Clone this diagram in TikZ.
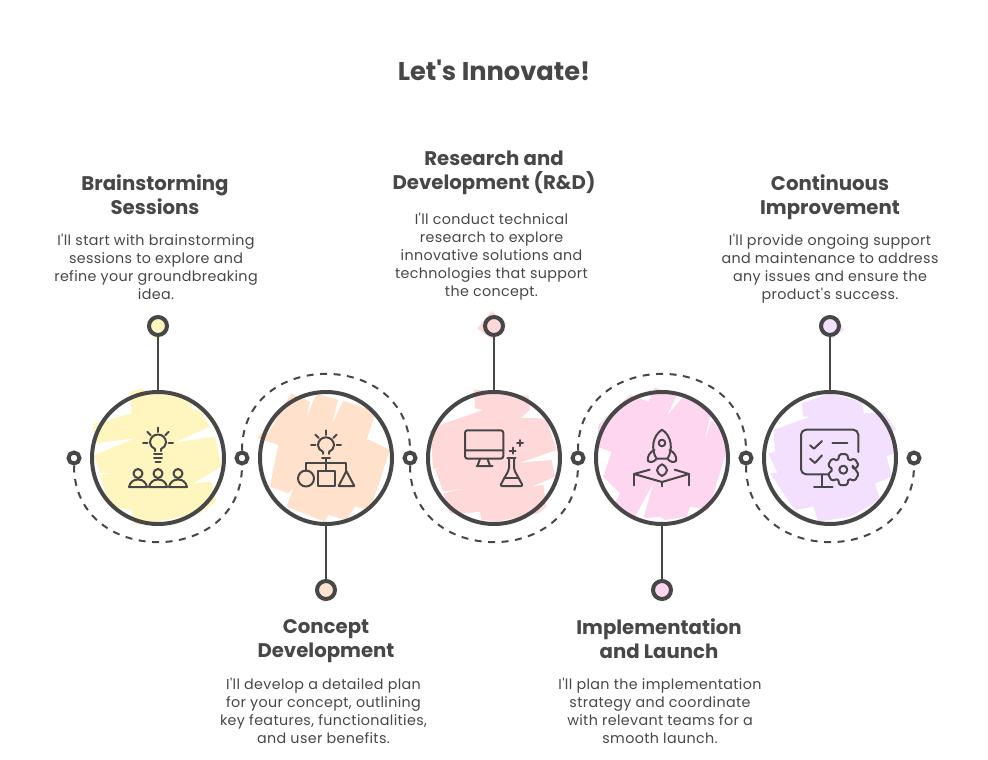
\documentclass[tikz,border=0pt]{standalone}
\usepackage{fontspec}
\setmainfont{Poppins}[Ligatures=TeXOff]
\usepackage{xcolor}
\usetikzlibrary{positioning}
\definecolor{ink}{HTML}{474747}
\definecolor{sunny}{HTML}{FFF6BF}
\definecolor{peach}{HTML}{FFE1CC}
\definecolor{blush}{HTML}{FFD9D9}
\definecolor{orchid}{HTML}{FFD6F0}
\definecolor{lilac}{HTML}{F3E0FF}
\tikzset{
    x=1pt, y=-1pt, % pixels of the sketch, going down
    hub/.style={circle, draw=ink, line width=4pt, minimum size=132pt, inner sep=0pt},
    pin/.style={circle, draw=ink, line width=4pt, minimum size=18pt, inner sep=0pt},
    joint/.style={circle, draw=ink, line width=4pt, minimum size=11pt, inner sep=0pt, fill=white},
    headline/.style={font=\bfseries\fontsize{25.7}{28}\selectfont, text=ink},
    heading/.style={font=\bfseries\fontsize{19.7}{24}\selectfont, text=ink, align=center, inner sep=0pt,
        execute at begin node=\strut, execute at end node=\strut},
    blurb/.style={font=\fontsize{14.3}{18}\selectfont\addfontfeature{LetterSpace=2.5}, text=ink, align=center, inner sep=0pt,
        execute at begin node=\strut, execute at end node=\strut},
    glyph/.style={draw=ink, line width=2pt, line cap=round, line join=round},
    zoomA/.style={shift={(60,310)}, scale=1/3},
    zoomB/.style={shift={(400,310)}, scale=1/3},
    zoomC/.style={shift={(740,310)}, scale=1/3},
    bulb/.pic={
        \draw[glyph] (-3,8.5) -- (-3,6.5) .. controls (-6,5) and (-8,3) .. (-8,0)
            .. controls (-8,-4.5) and (-4.5,-8) .. (0,-8) .. controls (4.5,-8) and (8,-4.5) .. (8,0)
            .. controls (8,3) and (6,5) .. (3,6.5) -- (3,8.5);
        \foreach \a in {0,-45,-90,-135,-180} \draw[glyph] (\a:10.5) -- (\a:15);
    },
    person/.pic={
        \draw[glyph] (0,0) circle (4.5);
        \draw[glyph] (-9,13.5) .. controls (-8,9) and (-5,6) .. (0,6) .. controls (5,6) and (8,9) .. (9,13.5) -- cycle;
    },
    crowdicon/.pic={
        \pic at (0,-15.5) {bulb};
        \draw[glyph] (-4,-4.5) -- (4,-4.5) (-4,-.5) -- (4,-.5) (-2.5,4) -- (2.5,4);
        \foreach \x in {-20,0,20} \pic at (\x,15.5) {person};
    },
    shapesicon/.pic={
        \pic at (0,-12.7) {bulb};
        \draw[glyph] (-4,0) -- (4,0) (0,0) -- (0,13) (-20,13) -- (-20,5) -- (20,5) -- (20,13);
        \draw[glyph] (-20,20.5) circle (8);
        \draw[glyph] (-8,13) rectangle (8.7,28);
        \draw[glyph] (20.3,13) -- (12.7,28) -- (28.3,28) -- cycle;
    },
    labicon/.pic={
        \draw[glyph, rounded corners=2.5pt] (-29,-27.7) rectangle (9.3,.7);
        \draw[glyph] (-29,-7.7) -- (9.3,-7.7) (-14,.7) -- (-16.5,8) (-6.5,.7) -- (-4,8) (-17.5,8) -- (-1.5,8);
        \draw[glyph, rounded corners=2pt] (15,0) -- (15,11.7) -- (6,28) -- (29,28) -- (20,11.7) -- (20,0);
        \draw[glyph] (13.3,0) -- (21.5,0) (10,20) -- (24,20);
        \draw[glyph] (18.7,-10.3) -- (18.7,-4.3) (15.7,-7.3) -- (21.7,-7.3);
        \draw[glyph] (26,-18) -- (26,-12) (23,-15) -- (29,-15);
    },
    rocketicon/.pic={
        \draw[glyph] (-5.5,.7) .. controls (-11,-8) and (-10,-22) .. (0,-28.3)
            .. controls (10,-22) and (11,-8) .. (5.5,.7) -- cycle;
        \draw[glyph] (0,-15) circle (3.3);
        \draw[glyph] (-7.5,-8) .. controls (-12,-6) and (-15,-2) .. (-14,3) .. controls (-11,5) and (-9,4) .. (-6,1.5);
        \draw[glyph] (7.5,-8) .. controls (12,-6) and (15,-2) .. (14,3) .. controls (11,5) and (9,4) .. (6,1.5);
        \draw[glyph] (0,6.3) .. controls (-3,8) and (-5,10) .. (-5,12.3) .. controls (-5,15) and (-2,17) .. (0,18)
            .. controls (2,17) and (5,15) .. (5,12.3) .. controls (5,10) and (3,8) .. (0,6.3) -- cycle;
        \draw[glyph] (-12.3,11.7) -- (-28,16) -- (0,24) -- (27,16) -- (12.7,11.7);
        \draw[glyph] (-28,16) -- (-28,27.3) (27,16) -- (27,27.3) (0,24) -- (0,28.3);
    },
    careicon/.pic={
        \draw[glyph, rounded corners=5pt] (28.3,-6) -- (28.3,-28.3) -- (-29,-28.3) -- (-29,16.3) -- (-2.7,16.3);
        \draw[glyph] (-8,16.3) -- (-8,28.3) (-16,29) -- (2.7,29);
        \draw[glyph] (-20,-12.7) -- (-16,-9.3) -- (-8,-17) (-20,.7) -- (-15,5) -- (-8,-2.7);
        \draw[glyph] (2.3,-15) -- (17.3,-15);
        \draw[glyph, fill=lilac, rounded corners=1.5pt, shift={(13.3,11.7)}] (-30:10)
            \foreach \a in {30,90,150,210,270,330} { -- ({\a-14}:16) -- ({\a+14}:16) -- ({\a+30}:10.5)} -- cycle;
        \draw[glyph] (13.3,11.7) circle (4);
    },
}
\tikzstyle{link} = [draw=ink, line width=2.5pt]
\tikzstyle{arcline} = [draw=ink, line width=2pt, dash pattern=on 7pt off 6.5pt, looseness=1.56]

\begin{document}
\begin{tikzpicture}[on grid, node distance=168pt]
    \useasboundingbox (0,0) rectangle (988,760);

    % Scribbles
    \begin{scope}[zoomA]
        \fill[sunny] (210,245) -- (248,235) -- (252,245) -- (300,245) -- (395,275) -- (395,297) -- (420,300) -- (450,350) -- (345,397) -- (465,380) -- (485,470) -- (400,520) -- (455,515) -- (468,575) -- (420,610) -- (235,645) -- (225,645) -- (215,600) -- (150,590) -- (120,495) -- (155,488) -- (120,490) -- (103,435) -- (225,385) -- (108,400) -- (98,342) -- (215,310) -- cycle;
        \fill[sunny] (262,35) -- (285,20) -- (310,60) -- (290,90) -- (265,60) -- cycle;
        \fill[peach] (693,250) -- (750,275) -- (740,320) -- (770,250) -- (835,270) -- (815,345) -- (850,272) -- (948,305) -- (918,395) -- (925,388) -- (990,420) -- (930,600) -- (885,590) -- (860,630) -- (805,615) -- (795,635) -- (680,590) -- (700,535) -- (685,550) -- (630,530) -- (655,405) -- (610,390) -- (592,385) -- (600,372) -- (625,370) -- cycle;
        \fill[peach] (770,830) -- (800,810) -- (825,860) -- (790,878) -- (768,840) -- cycle;
    \end{scope}
    \begin{scope}[zoomB]
        \fill[blush] (222,238) -- (385,258) -- (390,300) -- (363,323) -- (420,325) -- (440,330) -- (470,420) -- (360,458) -- (455,450) -- (465,500) -- (395,530) -- (430,525) -- (440,590) -- (415,610) -- (290,635) -- (245,630) -- (240,605) -- (175,612) -- (150,610) -- (145,600) -- (130,550) -- (195,535) -- (130,545) -- (105,480) -- (128,470) -- (100,478) -- (90,360) -- (120,345) -- (250,300) -- (225,295) -- cycle;
        \fill[blush] (232,55) -- (275,3) -- (318,40) -- (280,90) -- cycle;
        \fill[orchid] (690,255) -- (745,275) -- (765,232) -- (830,258) -- (800,318) -- (850,260) -- (935,300) -- (912,398) -- (935,330) -- (985,395) -- (975,440) -- (950,520) -- (925,600) -- (870,590) -- (860,620) -- (795,630) -- (780,620) -- (730,625) -- (760,520) -- (705,620) -- (640,590) -- (660,550) -- (610,500) -- (635,425) -- (590,410) -- (595,345) -- (640,300) -- cycle;
        \fill[orchid] (757,830) -- (790,810) -- (815,850) -- (790,875) -- (760,860) -- cycle;
    \end{scope}
    \begin{scope}[zoomC]
        \fill[lilac] (185,280) -- (270,250) -- (365,275) -- (372,310) -- (430,305) -- (470,360) -- (370,385) -- (445,365) -- (465,430) -- (420,445) -- (440,440) -- (455,500) -- (405,520) -- (420,570) -- (330,620) -- (235,635) -- (220,590) -- (165,600) -- (130,550) -- (90,490) -- (112,488) -- (85,430) -- (105,425) -- (100,360) -- (210,320) -- (190,320) -- cycle;
        \fill[lilac] (250,35) -- (290,20) -- (312,60) -- (275,88) -- (255,70) -- cycle;
    \end{scope}

    % Hubs
    \node[hub] (brain) at (158,458) {};
    \node[hub] (concept) [right=of brain] {};
    \node[hub] (research) [right=of concept] {};
    \node[hub] (launch) [right=of research] {};
    \node[hub] (improve) [right=of launch] {};

    % Pins
    \node[pin, fill=sunny] (pinbrain) [above=132pt of brain] {};
    \node[pin, fill=peach] (pinconcept) [below=132pt of concept] {};
    \node[pin, fill=blush] (pinresearch) [above=132pt of research] {};
    \node[pin, fill=orchid] (pinlaunch) [below=132pt of launch] {};
    \node[pin, fill=lilac] (pinimprove) [above=132pt of improve] {};

    % Joints
    \node[joint] (ja) [left=84pt of brain] {};
    \node[joint] (jb) [right=84pt of brain] {};
    \node[joint] (jc) [right=84pt of concept] {};
    \node[joint] (jd) [right=84pt of research] {};
    \node[joint] (je) [right=84pt of launch] {};
    \node[joint] (jf) [right=84pt of improve] {};

    % Links
    \path[link]
    (brain) edge (pinbrain)
    (concept) edge (pinconcept)
    (research) edge (pinresearch)
    (launch) edge (pinlaunch)
    (improve) edge (pinimprove);
    \draw[arcline] (ja.south) to[out=-90, in=-90] (jb.south);
    \draw[arcline] (jb.north) to[out=90, in=90] (jc.north);
    \draw[arcline] (jc.south) to[out=-90, in=-90] (jd.south);
    \draw[arcline] (jd.north) to[out=90, in=90] (je.north);
    \draw[arcline] (je.south) to[out=-90, in=-90] (jf.south);

    % Icons
    \pic at (brain) {crowdicon};
    \pic at (concept) {shapesicon};
    \pic at (research) {labicon};
    \pic at (launch) {rocketicon};
    \pic at (improve) {careicon};

    % Texts
    \node[headline] (title) at (494,70) {Let's Innovate!};
    \node[blurb] (textbrain) [above=56pt of pinbrain, xshift=-2pt] {I'll start with brainstorming\\sessions to explore and\\refine your groundbreaking\\idea.};
    \node[heading] (headbrain) [above=72pt of textbrain, xshift=-1pt] {Brainstorming\\Sessions};
    \node[blurb] (textconcept) [below=124pt of pinconcept, xshift=-2.5pt] {I'll develop a detailed plan\\for your concept, outlining\\key features, functionalities,\\and user benefits.};
    \node[heading] (headconcept) [above=72pt of textconcept, xshift=2.5pt] {Concept\\Development};
    \node[blurb] (textresearch) [above=68pt of pinresearch, xshift=-2.5pt] {I'll conduct technical\\research to explore\\innovative solutions and\\technologies that support\\the concept.};
    \node[heading] (headresearch) [above=84pt of textresearch, xshift=2.5pt] {Research and\\Development (R\&D)};
    \node[blurb] (textlaunch) [below=124pt of pinlaunch, xshift=-2pt] {I'll plan the implementation\\strategy and coordinate\\with relevant teams for a\\smooth launch.};
    \node[heading] (headlaunch) [above=72pt of textlaunch, xshift=-1pt] {Implementation\\and Launch};
    \node[blurb] (textimprove) [above=56pt of pinimprove] {I'll provide ongoing support\\and maintenance to address\\any issues and ensure the\\product's success.};
    \node[heading] (headimprove) [above=72pt of textimprove] {Continuous\\Improvement};
\end{tikzpicture}
\end{document}
